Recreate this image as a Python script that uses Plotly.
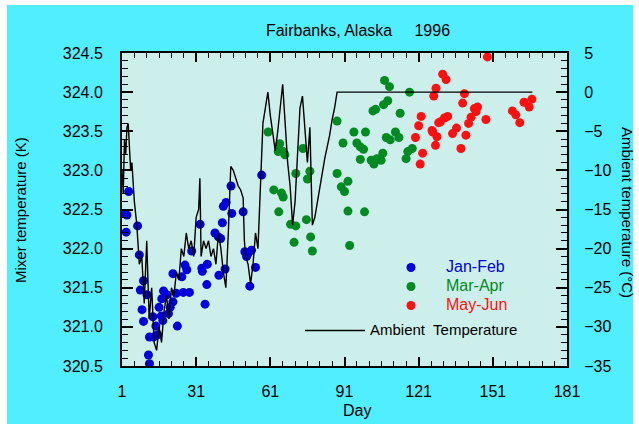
import plotly.graph_objects as go

# ---------------- data ----------------
jf_day = [1.7, 3.0, 2.7, 3.7, 7.3, 8.0, 9.7, 8.4, 11.1, 9.1, 9.7, 12.1, 13.7, 11.7, 12.1,
          13.5, 14.7, 15.4, 16.0, 16.9, 17.5, 17.1, 17.8, 19.1, 19.8, 20.5, 21.6, 23.4, 21.6,
          22.9, 25.2, 25.8, 28.3, 26.5, 27.2, 29.2, 32.6, 33.3, 33.5, 35.5, 35.3, 34.6, 38.6,
          40.0, 40.9, 41.6, 42.7, 40.2, 45.4, 43.1, 42.0, 45.1, 50.0, 50.7, 52.0, 53.4, 51.4,
          55.0, 52.7, 57.5]
jf_temp = [322.45, 322.43, 322.21, 322.73, 322.29, 321.92, 321.59, 321.47, 321.41, 321.22,
           321.07, 320.87, 320.87, 320.64, 320.53, 321.13, 321.01, 320.90, 321.25, 321.14,
           321.08, 321.36, 321.46, 321.41, 321.17, 321.25, 321.32, 321.01, 321.68, 321.43,
           321.64, 321.44, 321.44, 321.79, 321.73, 321.97, 322.31, 321.75, 321.71, 321.80,
           321.54, 321.29, 322.20, 322.15, 322.13, 322.33, 321.74, 321.66, 322.45, 322.59,
           322.54, 322.80, 322.47, 321.96, 321.94, 321.98, 321.90, 321.76, 321.52, 322.94]

ma_day = [60.1, 64.8, 64.2, 66.2, 66.9, 74.2, 71.3, 77.0, 76.0, 62.4, 65.5, 66.2, 64.4, 75.6,
          69.2, 71.3, 70.6, 77.3, 78.0, 88.0, 88.0, 89.7, 91.0, 92.4, 90.4, 92.4, 93.1, 99.1,
          94.8, 99.5, 96.0, 97.4, 98.7, 97.4, 101.8, 102.9, 104.1, 106.5, 102.5, 103.6, 106.8,
          108.5, 107.2, 109.2, 113.5, 117.3, 107.9, 109.5, 111.6, 113.0, 115.9, 116.6, 118.4,
          105.8]
ma_temp = [323.49, 323.34, 323.24, 323.24, 323.20, 323.28, 322.96, 322.99, 322.89, 322.75,
           322.71, 322.66, 322.47, 322.37, 322.31, 322.29, 322.08, 322.15, 321.97, 323.63,
           322.96, 322.79, 322.73, 322.86, 323.35, 322.48, 322.04, 322.47, 323.49, 323.49,
           323.35, 323.30, 323.27, 323.14, 323.13, 323.08, 323.15, 323.22, 323.76, 323.78,
           323.84, 323.89, 324.15, 324.07, 323.73, 324.00, 323.42, 323.39, 323.49, 323.42,
           323.15, 323.24, 323.28, 323.13]

mj_day = [148.8, 130.7, 132.1, 128.0, 127.1, 139.5, 138.8, 143.5, 144.8, 144.2, 142.2, 141.2,
          148.2, 122.0, 121.0, 132.7, 131.4, 129.8, 136.3, 134.7, 126.7, 128.4, 127.8, 119.7,
          122.6, 121.6, 140.1, 138.1, 158.9, 160.3, 161.9, 163.6, 165.7, 166.8, 129.1, 126.4]
mj_temp = [324.45, 324.23, 324.16, 324.05, 323.95, 323.98, 323.86, 323.79, 323.81, 323.75,
           323.68, 323.60, 323.65, 323.69, 323.57, 323.69, 323.67, 323.62, 323.54, 323.47,
           323.49, 323.43, 323.32, 323.42, 323.22, 323.08, 323.45, 323.28, 323.76, 323.71,
           323.61, 323.87, 323.81, 323.91, 323.61, 323.51]

amb_day = [1, 1.5, 2, 2.5, 3, 3.5, 4, 4.5, 5, 6, 7, 8, 9, 10, 11, 12, 13, 14, 15, 16, 17, 18,
           19, 20, 21, 22, 23, 24, 25, 26, 27, 28, 29, 30, 31, 32, 32.5, 33, 34, 35, 36, 37,
           38, 39, 40, 41, 42, 43, 44, 45, 46, 47, 48, 49, 50, 50.5, 51, 52, 53, 54, 55, 56,
           57, 58, 59, 60, 61, 62, 63, 64, 65, 66, 67, 68, 69, 70, 71, 72, 73, 74, 75, 76, 77,
           78, 79, 80, 81, 82, 83, 84, 85, 86, 87, 88, 167]
amb_temp = [-10, -13, -6, -8, -4.5, -4, -7, -10, -9, -14, -17, -22, -21, -27, -19, -29, -25,
            -32, -33, -30, -32, -28, -26, -29, -25, -26, -23, -24, -20, -21, -18, -20, -19,
            -21, -16, -15, -11, -21, -19, -20, -19, -21, -20, -22, -18, -20, -23, -25, -18,
            -9.5, -10, -11, -12, -12.5, -13.5, -19, -21, -22, -24.5, -22, -18, -20, -13, -4,
            -2, 0, -3, -5, -7.5, -5, -2, 1, -4, -9, -12, -17, -14, -8, -2, -0.5, -5, -9, -4.5,
            -17, -16, -14, -12, -10, -8.5, -7, -5.5, -3.5, -2, 0, 0]

series_names = ["Jan-Feb", "Mar-Apr", "May-Jun"]
series_colors = ["#0000DC", "#008A22", "#FF1010"]
x_ticks = [1, 31, 61, 91, 121, 151, 181]

# ---------------- figure ----------------
W, H = 639, 425
ML, MR, MT, MB = 122, 72, 53, 59
PW, PH = W - ML - MR, H - MT - MB

fig = go.Figure()
for d, t, n, c in zip([jf_day, ma_day, mj_day], [jf_temp, ma_temp, mj_temp],
                      series_names, series_colors):
    fig.add_trace(go.Scatter(
        x=d, y=t, mode="markers", name=f'<span style="color:{c};font-size:16px">{n}</span>',
        marker=dict(color=c, size=9, line=dict(width=0)), legend="legend"))

fig.add_trace(go.Scatter(
    x=amb_day, y=amb_temp, mode="lines", yaxis="y2",
    name='<span style="font-size:15px">Ambient  Temperature</span>',
    line=dict(color="black", width=1.4), legend="legend2"))

CYAN = "#50EEFF"
LIGHT = "#CDEFEB"

def px_x(x):
    return (x - ML) / PW

def px_y(y):
    return (H - MB - y) / PH

fig.add_shape(type="rect", xref="paper", yref="paper", layer="below",
              x0=px_x(7), x1=px_x(633), y0=px_y(424), y1=px_y(5),
              fillcolor=CYAN, line=dict(width=0))
fig.add_shape(type="rect", xref="paper", yref="paper", layer="below",
              x0=0, x1=1, y0=0, y1=1, fillcolor=LIGHT, line=dict(width=0))

tickfont = dict(family="Liberation Sans, Arial, sans-serif", size=16, color="black")
common = dict(showgrid=False, zeroline=False, showline=True, linecolor="black", linewidth=2,
              ticks="inside", tickcolor="black", tickwidth=1.6, tickfont=tickfont)

fig.update_layout(
    width=W, height=H, autosize=False,
    margin=dict(l=ML, r=MR, t=MT, b=MB, pad=0),
    paper_bgcolor="white", plot_bgcolor=LIGHT,
    font=dict(family="Liberation Sans, Arial, sans-serif", color="black"),
    title=dict(text="Fairbanks, Alaska &nbsp; &nbsp; 1996", x=358 / W, xanchor="center",
               y=1 - 30 / H, yanchor="middle", xref="container", yref="container",
               font=dict(size=16, color="black")),
    xaxis=dict(range=[1, 181], tickmode="array", tickvals=x_ticks, ticklen=9,
               mirror="ticks", ticklabelstandoff=10,
               minor=dict(dtick=5, tick0=1, ticklen=5, ticks="inside", tickcolor="black",
                          tickwidth=1.4), **common),
    yaxis=dict(range=[320.5, 324.5], dtick=0.5, tick0=320.5, tickformat=".1f", ticklen=11,
               ticklabelstandoff=14,
               minor=dict(dtick=0.1, ticklen=6, ticks="inside", tickcolor="black",
                          tickwidth=1.4), **common),
    yaxis2=dict(range=[-35, 5], dtick=5, tick0=-35, overlaying="y", side="right", ticklen=11,
                ticklabelstandoff=12,
                minor=dict(dtick=1, ticklen=6, ticks="inside", tickcolor="black",
                           tickwidth=1.4), **common),
    legend=dict(x=px_x(376), y=px_y(253), xanchor="left", yanchor="top",
                bgcolor="rgba(0,0,0,0)", borderwidth=0, itemwidth=60,
                font=dict(size=11, color="black"), tracegroupgap=0),
    legend2=dict(x=px_x(300), y=px_y(316), xanchor="left", yanchor="top",
                 bgcolor="rgba(0,0,0,0)", borderwidth=0, itemwidth=60,
                 font=dict(size=11, color="black")),
    annotations=[
        dict(text="Day", xref="paper", yref="paper", x=px_x(357), y=px_y(410),
             xanchor="center", yanchor="middle", showarrow=False, font=dict(size=16)),
        dict(text="Mixer temperature (K)", xref="paper", yref="paper", x=px_x(20),
             y=px_y(210), textangle=-90, xanchor="center", yanchor="middle",
             showarrow=False, font=dict(size=15)),
        dict(text="Ambient temperature (°C)", xref="paper", yref="paper", x=px_x(628),
             y=px_y(212), textangle=90, xanchor="center", yanchor="middle",
             showarrow=False, font=dict(size=15)),
    ],
)

fig.write_html("out.html", config={"displayModeBar": False},
               post_script="document.body.style.margin='0';")
